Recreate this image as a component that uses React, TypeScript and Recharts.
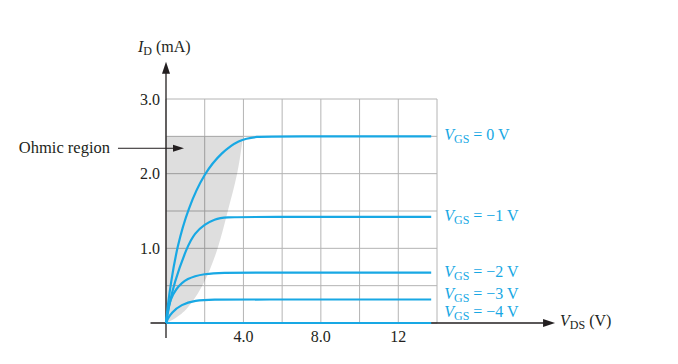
import { ComposedChart, Line, Area, XAxis, YAxis, CartesianGrid, ReferenceLine } from 'recharts';

type Pt = { vds: number; id: number };
const toPts = (rows: number[][]): Pt[] => rows.map(([vds, id]) => ({ vds, id }));

// Drain characteristics (VDS in V, ID in mA)
const vgs0 = toPts([[0, 0], [0.1, 0.25], [0.24, 0.52], [0.57, 1.02], [1.14, 1.54], [2.0, 2.02], [2.9, 2.29], [3.75, 2.45], [4.6, 2.5], [6, 2.5], [13.7, 2.5]]);
const vgs1 = toPts([[0, 0], [0.15, 0.22], [0.4, 0.52], [1.08, 1.02], [1.5, 1.21], [2.0, 1.32], [2.5, 1.39], [3.05, 1.42], [4.5, 1.42], [13.7, 1.42]]);
const vgs2 = toPts([[0, 0], [0.08, 0.14], [0.22, 0.31], [0.48, 0.45], [1.08, 0.605], [2.0, 0.66], [2.9, 0.675], [4.5, 0.675], [13.7, 0.675]]);
const vgs3 = toPts([[0, 0], [0.1, 0.06], [0.27, 0.135], [0.79, 0.25], [1.5, 0.302], [2.4, 0.315], [4, 0.315], [13.7, 0.315]]);
const vgs4 = toPts([[0, 0], [13.7, 0]]);

const curveNames = ['0', '\u22121', '\u22122', '\u22123', '\u22124'];
const curveData = [vgs0, vgs1, vgs2, vgs3, vgs4];

// Shaded ohmic region: lower boundary and the 2.5 mA ceiling
const ohmicVds = [0, 0.48, 1.08, 1.95, 2.72, 3.2, 3.72, 3.98];
const ohmicLow = [0, 0.06, 0.17, 0.5, 1.0, 1.52, 2.0, 2.5];
const ohmicTop = 2.5;
const ohmicData = ohmicVds.map((vds, i) => ({ vds, low: ohmicLow[i], high: ohmicTop }));

const xTicks = [0, 2, 4, 6, 8, 10, 12, 14];
const xTickLabels: Record<number, string> = { 4: '4.0', 8: '8.0', 12: '12' };
const yTicks = [0, 0.5, 1, 1.5, 2, 2.5, 3];
const yTickLabels: Record<number, string> = { 1: '1.0', 2: '2.0', 3: '3.0' };

const BLUE = '#18a8e4';
const INK = '#231f20';
const FONT = '"Liberation Serif", "Times New Roman", serif';

// label baseline offsets relative to each curve's flat end
const labelDy = [4, 4, 4, 0, -6];

const upArrow = (p: any) => {
    const { x1, y1, x2, y2 } = p;
    return (
        <g>
            <line x1={x1} y1={y1} x2={x2} y2={y2 + 8} stroke={INK} strokeWidth={1.3} />
            <polygon points={`${x2},${y2} ${x2 - 4},${y2 + 12} ${x2 + 4},${y2 + 12}`} fill={INK} />
            <text x={x2 - 28} y={y2 - 10} fontFamily={FONT} fontSize={16} fill={INK}>
                <tspan fontStyle="italic">I</tspan>
                <tspan fontSize={12} dy={3}>D</tspan>
                <tspan dy={-3}> (mA)</tspan>
            </text>
        </g>
    );
};

const rightArrow = (p: any) => {
    const { x1, y1, x2, y2 } = p;
    return (
        <g>
            <line x1={x1} y1={y1} x2={x2 - 8} y2={y2} stroke={INK} strokeWidth={1.3} />
            <polygon points={`${x2},${y2} ${x2 - 12},${y2 - 4} ${x2 - 12},${y2 + 4}`} fill={INK} />
            <text x={x2 + 5} y={y2 + 3} fontFamily={FONT} fontSize={16} fill={INK}>
                <tspan fontStyle="italic">V</tspan>
                <tspan fontSize={12} dy={3}>DS</tspan>
                <tspan dy={-3}> (V)</tspan>
            </text>
        </g>
    );
};

const ohmicArrow = (p: any) => {
    const { x1, y1, x2, y2 } = p;
    return (
        <g>
            <line x1={x1} y1={y1} x2={x2 - 8} y2={y2} stroke={INK} strokeWidth={1} />
            <polygon points={`${x2},${y2} ${x2 - 11},${y2 - 3.5} ${x2 - 11},${y2 + 3.5}`} fill={INK} />
            <text x={x1 - 8} y={y2 + 5} textAnchor="end" fontFamily={FONT} fontSize={16.5} fill={INK}>
                Ohmic region
            </text>
        </g>
    );
};

const endLabel = (i: number, count: number) => (p: any) => {
    const { cx, cy, index } = p;
    if (index !== count - 1) return <g key={`d-${i}-${index}`} />;
    return (
        <text key={`d-${i}-${index}`} x={cx + 13} y={cy + labelDy[i]} fontFamily={FONT} fontSize={16} fill={BLUE}>
            <tspan fontStyle="italic">V</tspan>
            <tspan fontSize={12} dy={3}>GS</tspan>
            <tspan dy={-3}>{` = ${curveNames[i]} V`}</tspan>
        </text>
    );
};

export default function App() {
    return (
        <div style={{ position: 'absolute', left: 0, top: 0, width: 678, height: 364, background: '#fff', fontFamily: FONT }}>
            <ComposedChart width={678} height={364} margin={{ top: 99, right: 241, bottom: 11, left: 136 }}>
                <CartesianGrid stroke="#b4b4b4" strokeWidth={1} />
                <XAxis
                    type="number"
                    dataKey="vds"
                    domain={[0, 14]}
                    ticks={xTicks}
                    height={30}
                    axisLine={false}
                    tickLine={false}
                    tickFormatter={(v: number) => xTickLabels[v] ?? ''}
                    tick={{ fill: INK, fontSize: 16, fontFamily: FONT }}
                />
                <YAxis
                    type="number"
                    domain={[0, 3]}
                    ticks={yTicks}
                    width={30}
                    axisLine={false}
                    tickLine={false}
                    tickMargin={0}
                    tickFormatter={(v: number) => yTickLabels[v] ?? ''}
                    tick={{ fill: INK, fontSize: 16, fontFamily: FONT }}
                />
                <Area
                    data={ohmicData}
                    dataKey={(d: any) => [d.low, d.high]}
                    type="basis"
                    stroke="none"
                    fill="#000"
                    fillOpacity={0.13}
                    isAnimationActive={false}
                />
                <ReferenceLine segment={[{ x: 0, y: -0.2 }, { x: 0, y: 3.5 }]} ifOverflow="visible" shape={upArrow} />
                <ReferenceLine segment={[{ x: -0.8, y: 0 }, { x: 20.1, y: 0 }]} ifOverflow="visible" shape={rightArrow} />
                <ReferenceLine segment={[{ x: -2.48, y: 2.34 }, { x: 0.93, y: 2.34 }]} ifOverflow="visible" shape={ohmicArrow} />
                {curveData.map((data, i) => (
                    <Line
                        key={curveNames[i]}
                        data={data}
                        dataKey="id"
                        type="basis"
                        stroke={BLUE}
                        strokeWidth={2.2}
                        dot={endLabel(i, data.length)}
                        activeDot={false}
                        isAnimationActive={false}
                    />
                ))}
            </ComposedChart>
        </div>
    );
}
